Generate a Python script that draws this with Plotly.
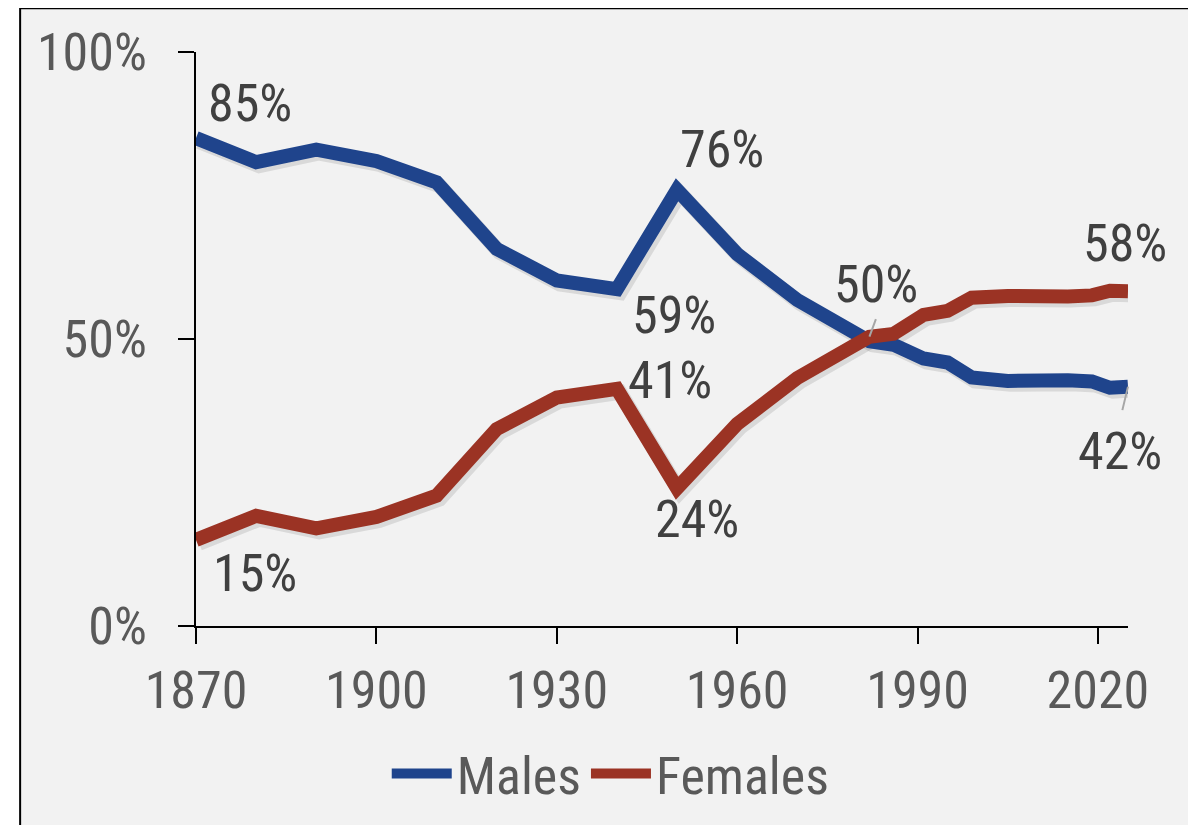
import plotly.graph_objects as go

years = [1870, 1880, 1890, 1900, 1910, 1920, 1930, 1940, 1950, 1960, 1970, 1976,
         1982, 1986, 1989, 1991, 1995, 1999, 2005, 2010, 2015, 2019, 2022, 2025]
males = [85.0, 80.8, 83.0, 81.0, 77.3, 65.7, 60.2, 58.7, 76.0, 64.8, 56.8, 53.2,
         49.6, 49.0, 47.6, 46.6, 45.9, 43.3, 42.7, 42.9, 42.8, 42.6, 41.5, 41.7]
females = [15.0, 19.2, 17.0, 19.0, 22.7, 34.3, 39.8, 41.3, 24.0, 35.2, 43.2, 46.8,
           50.4, 50.9, 52.5, 54.2, 54.9, 57.2, 57.5, 57.2, 57.4, 57.6, 58.4, 58.3]
series_names = ["Males", "Females"]
x_ticks = [1870, 1900, 1930, 1960, 1990, 2020]
y_ticks = [0, 50, 100]

BLUE = "rgb(31,68,140)"
RED = "rgb(155,51,36)"
FONT = "Liberation Sans Narrow, Arial Narrow, Roboto Condensed, DejaVu Sans Condensed, Arial, sans-serif"
TICK_COLOR = "#595959"
LABEL_COLOR = "#404040"
FS = 52

fig = go.Figure()

# soft drop shadows
for vals in (males, females):
    fig.add_trace(go.Scatter(
        x=[y + 0.5 for y in years], y=[v - 0.6 for v in vals], mode="lines",
        line=dict(color="rgba(0,0,0,0.10)", width=15), showlegend=False, hoverinfo="skip"))

fig.add_trace(go.Scatter(x=years, y=males, mode="lines", name=series_names[0],
                         line=dict(color=BLUE, width=14)))
fig.add_trace(go.Scatter(x=years, y=females, mode="lines", name=series_names[1],
                         line=dict(color=RED, width=14)))

def idx(y):
    return years.index(y)

# data labels: (series, year, xshift, yshift)
labels = [
    (males, 1870, 54, 35),
    (males, 1950, 45, 40),
    (males, 1940, 57, -26),
    (females, 1940, 53, 8),
    (females, 1950, 20, -31),
    (females, 1870, 59, -34),
    (females, 1982, 7, 52),
    (females, 2025, -3, 48),
    (males, 2025, -8, -65),
]
for vals, yr, xs, ys in labels:
    v = vals[idx(yr)]
    fig.add_annotation(x=yr, y=v, text=f"{round(v)}%", showarrow=False,
                       xshift=xs, yshift=ys,
                       font=dict(family=FONT, size=FS, color=LABEL_COLOR))

# leader lines
for vals, yr, ax, ay in [(females, 1982, 7, -19), (males, 2025, -6, 25)]:
    fig.add_annotation(x=yr, y=vals[idx(yr)], text="", showarrow=True,
                       ax=ax, ay=ay, arrowhead=0, arrowwidth=2,
                       arrowcolor="#a6a6a6", standoff=0, startstandoff=0)

# frame
fig.add_shape(type="rect", xref="paper", yref="paper",
              x0=-0.1887, x1=1.2, y0=-0.5, y1=1.0763,
              line=dict(color="black", width=2), fillcolor="#f2f2f2", layer="below")

fig.update_layout(
    width=1188, height=817,
    margin=dict(l=188, r=68, t=44, b=198),
    paper_bgcolor="white", plot_bgcolor="#f2f2f2",
    font=dict(family=FONT, size=FS, color=TICK_COLOR),
    showlegend=True,
    legend=dict(orientation="h", x=0.445, xanchor="center", y=-0.255, yanchor="middle",
                font=dict(family=FONT, size=FS, color=TICK_COLOR),
                bgcolor="rgba(0,0,0,0)", itemwidth=60, traceorder="normal"),
    xaxis=dict(range=[1870, 2025], tickvals=x_ticks, ticktext=[str(t) for t in x_ticks],
               showgrid=False, zeroline=False, showline=True, linecolor="black", linewidth=2,
               ticks="outside", ticklen=16, tickcolor="black", tickwidth=1.5,
               ticklabelstandoff=2,
               tickfont=dict(family=FONT, size=FS, color=TICK_COLOR)),
    yaxis=dict(range=[0, 100], tickvals=y_ticks, ticktext=[f"{t}%" for t in y_ticks],
               showgrid=False, zeroline=False, showline=True, linecolor="black", linewidth=1.5,
               ticks="outside", ticklen=16, tickcolor="black", tickwidth=1.5,
               ticklabelstandoff=21,
               tickfont=dict(family=FONT, size=FS, color=TICK_COLOR)),
)

fig.write_html("out.html")
